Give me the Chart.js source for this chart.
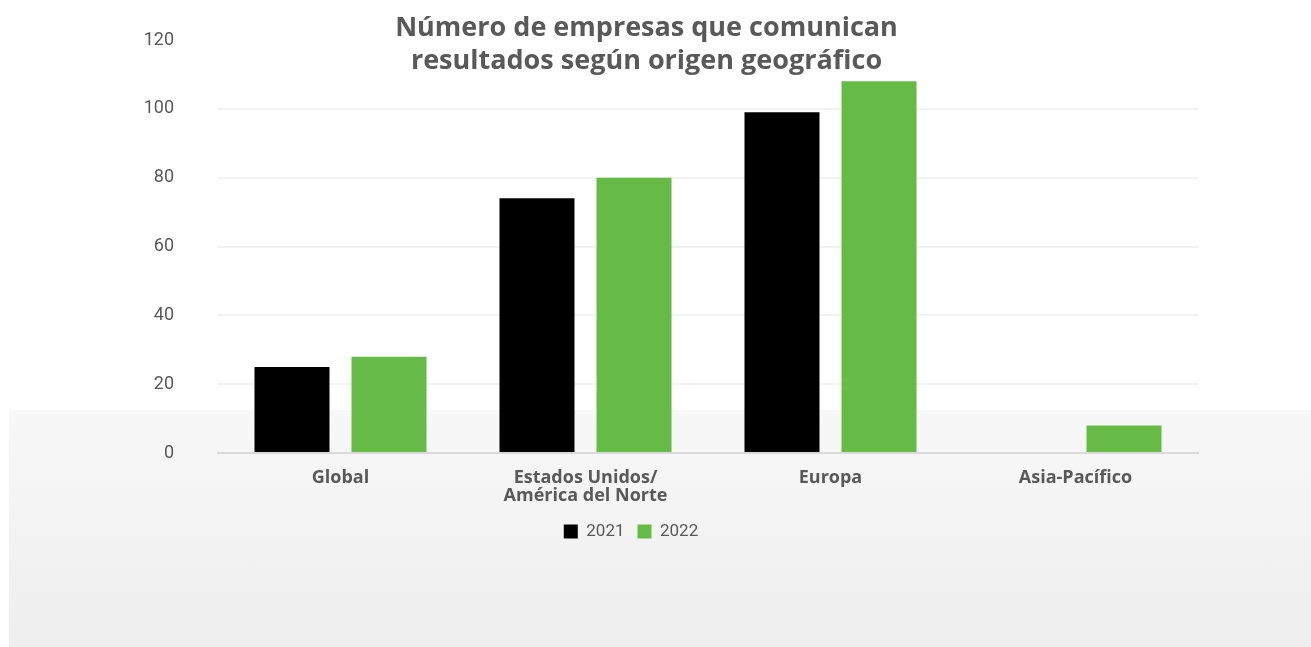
<!DOCTYPE html>
<html>
<head>
<meta charset="utf-8">
<script src="https://cdn.jsdelivr.net/npm/chart.js@4"></script>
<style>
  html, body { margin: 0; padding: 0; background: #fff; }
  #wrap { position: relative; width: 1311px; height: 647px; overflow: hidden; }
  #panel {
    position: absolute; left: 9px; top: 410px; right: 0; bottom: 0;
    background: linear-gradient(#f8f8f8, #eeeeee);
  }
  #title {
    position: absolute; left: 0; top: 9px; width: 1293px; text-align: center;
    font-family: "Open Sans", sans-serif; font-weight: bold; font-size: 27px;
    line-height: 33px; color: #595959;
  }
  canvas { position: absolute; left: 0; top: 0; }
</style>
</head>
<body>
<div id="wrap">
  <div id="panel"></div>
  <canvas id="BarChart" width="1311" height="647"></canvas>
  <div id="title">Número de empresas que comunican<br>resultados según origen geográfico</div>
</div>
<script>
const categories = ["Global", ["Estados Unidos/", "América del Norte"], "Europa", "Asia-Pacífico"];
const values2021 = [25, 74, 99, 0];
const values2022 = [28, 80, 108, 8];
const yTicks = [0, 20, 40, 60, 80, 100, 120];

const textGrey = "#595959";
const clear = "rgba(0,0,0,0)";

const ctx = document.getElementById("BarChart").getContext("2d");

const data = {
  labels: categories,
  datasets: [
    {
      label: "2021",
      data: values2021,
      backgroundColor: "#000000",
      categoryPercentage: 0.792,
      barPercentage: 0.773,
    },
    {
      label: "2022",
      data: values2022,
      backgroundColor: "#66bb46",
      categoryPercentage: 0.792,
      barPercentage: 0.773,
    },
  ],
};

const options = {
  responsive: false,
  animation: false,
  layout: {
    padding: { left: 64, right: 113, top: 40, bottom: 97 },
  },
  scales: {
    x: {
      afterFit: (scale) => { scale.height -= 11; },
      grid: { display: false, drawTicks: false },
      border: { color: "#d9d9d9", width: 2 },
      ticks: {
        color: textGrey,
        padding: 16,
        font: { family: '"Open Sans", sans-serif', weight: "bold", size: 18, lineHeight: 1.0 },
      },
    },
    y: {
      min: 0,
      max: 120,
      afterFit: (scale) => { scale.width = 154; },
      afterBuildTicks: (scale) => { scale.ticks = yTicks.map((v) => ({ value: v })); },
      border: { display: false },
      grid: {
        drawTicks: true,
        tickLength: 44,
        tickColor: clear,
        lineWidth: 2,
        color: (c) => (c.tick && c.tick.value === 120 ? clear : "#f2f2f2"),
      },
      ticks: {
        color: textGrey,
        padding: 0,
        font: { family: "Roboto, sans-serif", size: 18 },
      },
    },
  },
  plugins: {
    legend: {
      position: "bottom",
      labels: {
        color: textGrey,
        boxWidth: 14,
        boxHeight: 14,
        padding: 13,
        font: { family: "Roboto, sans-serif", size: 17 },
      },
    },
    tooltip: { enabled: false },
  },
};

new Chart(ctx, { type: "bar", data: data, options: options });
</script>
</body>
</html>
